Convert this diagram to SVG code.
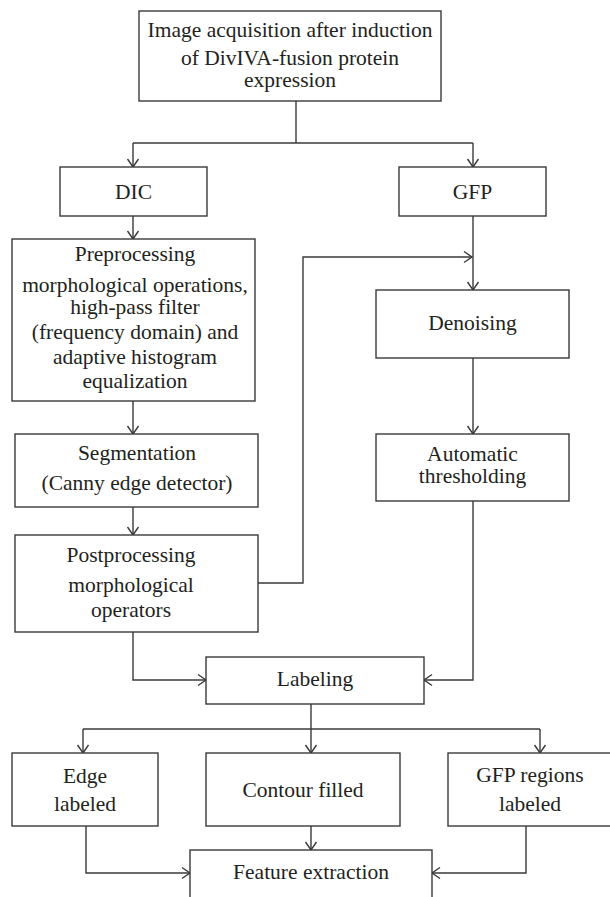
<svg xmlns="http://www.w3.org/2000/svg" width="610" height="897" viewBox="0 0 610 897">
<style>
  .box { fill: #ffffff; stroke: #3a3a3a; stroke-width: 1.4; }
  .txt { font-family: "Liberation Serif", "Times New Roman", "DejaVu Serif", serif; font-size: 21.5px; fill: #231f20; text-anchor: middle; }
  .line { fill: none; stroke: #3a3a3a; stroke-width: 1.4; }
  .arr { marker-end: url(#ah); }
</style>
<defs>
  <marker id="ah" markerUnits="userSpaceOnUse" markerWidth="20" markerHeight="20" viewBox="-10 -10 20 20" refX="0" refY="0" orient="auto">
    <path d="M-8,-5.5 L0,0 L-8,5.5" fill="none" stroke="#3a3a3a" stroke-width="1.4"/>
  </marker>
</defs>
<rect width="610" height="897" fill="#ffffff"/>

<g id="connectors">
  <path class="line" d="M296,101 V143"/>
  <path class="line" d="M133,143 H473"/>
  <path class="line arr" d="M133,143 V167"/>
  <path class="line arr" d="M473,143 V167"/>
  <path class="line arr" d="M133,216 V239"/>
  <path class="line arr" d="M133,401 V434"/>
  <path class="line arr" d="M133,507 V535"/>
  <path class="line arr" d="M258,583 H303 V257 H472"/>
  <path class="line arr" d="M473,216 V290"/>
  <path class="line arr" d="M473,358 V434"/>
  <path class="line arr" d="M133,632 V680 H206"/>
  <path class="line arr" d="M473,501 V680 H424"/>
  <path class="line" d="M311,704 V729"/>
  <path class="line" d="M83,729 H540"/>
  <path class="line arr" d="M83,729 V753"/>
  <path class="line arr" d="M311,729 V753"/>
  <path class="line arr" d="M540,729 V753"/>
  <path class="line arr" d="M86,826 V873 H190"/>
  <path class="line arr" d="M311,826 V850"/>
  <path class="line arr" d="M526,826 V873 H432"/>
</g>

<g id="acquisition">
  <rect class="box" x="139" y="11" width="302" height="90"/>
  <text class="txt" x="290" y="37">Image acquisition after induction</text>
  <text class="txt" x="290" y="65">of DivIVA-fusion protein</text>
  <text class="txt" x="290" y="87">expression</text>
</g>
<g id="dic">
  <rect class="box" x="60" y="167" width="147" height="49"/>
  <text class="txt" x="133.5" y="199">DIC</text>
</g>
<g id="gfp">
  <rect class="box" x="399" y="167" width="147" height="49"/>
  <text class="txt" x="472.5" y="199">GFP</text>
</g>
<g id="preprocessing">
  <rect class="box" x="12" y="239" width="243" height="162"/>
  <text class="txt" x="135" y="261">Preprocessing</text>
  <text class="txt" x="135" y="292">morphological operations,</text>
  <text class="txt" x="135" y="314">high-pass filter</text>
  <text class="txt" x="135" y="339">(frequency domain) and</text>
  <text class="txt" x="135" y="364">adaptive histogram</text>
  <text class="txt" x="135" y="388">equalization</text>
</g>
<g id="segmentation">
  <rect class="box" x="15" y="434" width="243" height="73"/>
  <text class="txt" x="137" y="460">Segmentation</text>
  <text class="txt" x="137" y="490">(Canny edge detector)</text>
</g>
<g id="postprocessing">
  <rect class="box" x="15" y="535" width="243" height="97"/>
  <text class="txt" x="131" y="562">Postprocessing</text>
  <text class="txt" x="131" y="592">morphological</text>
  <text class="txt" x="131" y="617">operators</text>
</g>
<g id="denoising">
  <rect class="box" x="376" y="290" width="193" height="68"/>
  <text class="txt" x="472.5" y="330">Denoising</text>
</g>
<g id="thresholding">
  <rect class="box" x="376" y="434" width="193" height="67"/>
  <text class="txt" x="472.5" y="461">Automatic</text>
  <text class="txt" x="472.5" y="483">thresholding</text>
</g>
<g id="labeling">
  <rect class="box" x="206" y="657" width="218" height="47"/>
  <text class="txt" x="315" y="686">Labeling</text>
</g>
<g id="edge-labeled">
  <rect class="box" x="12" y="753" width="146" height="73"/>
  <text class="txt" x="85" y="783">Edge</text>
  <text class="txt" x="85" y="811">labeled</text>
</g>
<g id="contour-filled">
  <rect class="box" x="206" y="753" width="194" height="73"/>
  <text class="txt" x="303" y="797">Contour filled</text>
</g>
<g id="gfp-regions">
  <rect class="box" x="448" y="753" width="164" height="73"/>
  <text class="txt" x="530" y="782">GFP regions</text>
  <text class="txt" x="530" y="811">labeled</text>
</g>
<g id="feature-extraction">
  <rect class="box" x="190" y="850" width="242" height="60"/>
  <text class="txt" x="311" y="879">Feature extraction</text>
</g>
</svg>
